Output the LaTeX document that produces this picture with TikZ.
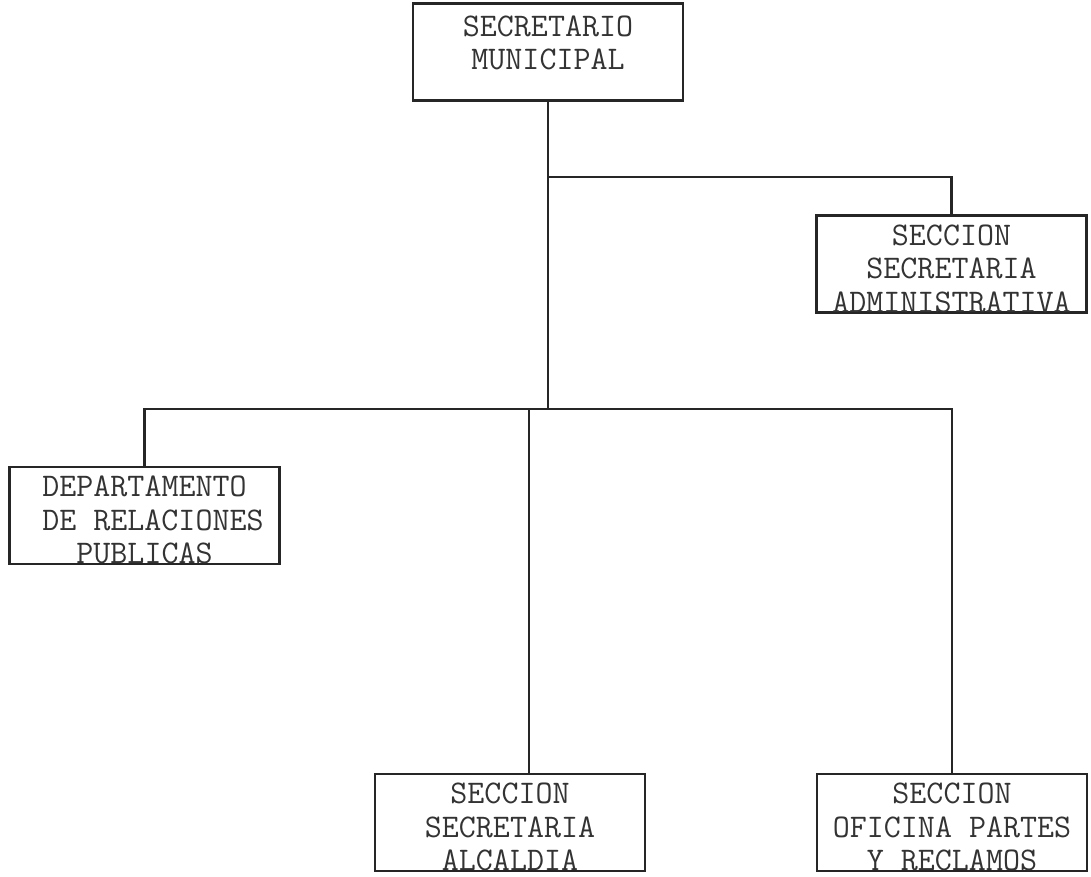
\documentclass[tikz,border=0pt]{standalone}
\usetikzlibrary{positioning}
\tikzset{
unidad/.style={draw=black!85, line width=1.2pt, minimum width=5.4cm, minimum height=1.94cm, inner sep=0pt}, % the empty frame of each office
rotulo/.style={align=center, inner sep=0pt, text=black!80, font=\ttfamily\fontsize{18.8}{19}\selectfont}, % the typed name in the frame
linea/.style={draw=black!85, line width=1.2pt}, % the joining lines
}

\begin{document}
\begin{tikzpicture}[x=0.02cm,y=-0.02cm]
\useasboundingbox (0,0) rectangle (1091,876);
\node[unidad] (S) at (548,52) {};
\node[unidad] (A) at (951.5,264) {};
\node[unidad] (D) at (144.5,515.5) {};
\node[unidad] (C) at (510,822.5) {};
\node[unidad] (P) at (952,822.5) {};
\node[rotulo, below=0.26cm of S.north] (tS) {SECRETARIO\\MUNICIPAL};
\node[rotulo, below=0.2cm of A.north] (tA) {SECCION\\SECRETARIA\\ADMINISTRATIVA};
\node[rotulo, below=0.2cm of D.north] (tD) {DEPARTAMENTO\\\ DE RELACIONES\\PUBLICAS};
\node[rotulo, below=0.2cm of C.north] (tC) {SECCION\\SECRETARIA\\ALCALDIA};
\node[rotulo, below=0.2cm of P.north] (tP) {SECCION\\OFICINA PARTES\\Y RECLAMOS};
\coordinate (j1) at (548,177);
\coordinate (j2) at (548,409);
\coordinate (j3) at (529,409);
\draw[linea] (S.south) -- (j2);
\draw[linea] (j1) -| (A.north);
\draw[linea] (D.north) |- (j2) -| (P.north);
\draw[linea] (j3) -- (j3 |- C.north);
\end{tikzpicture}
\end{document}
